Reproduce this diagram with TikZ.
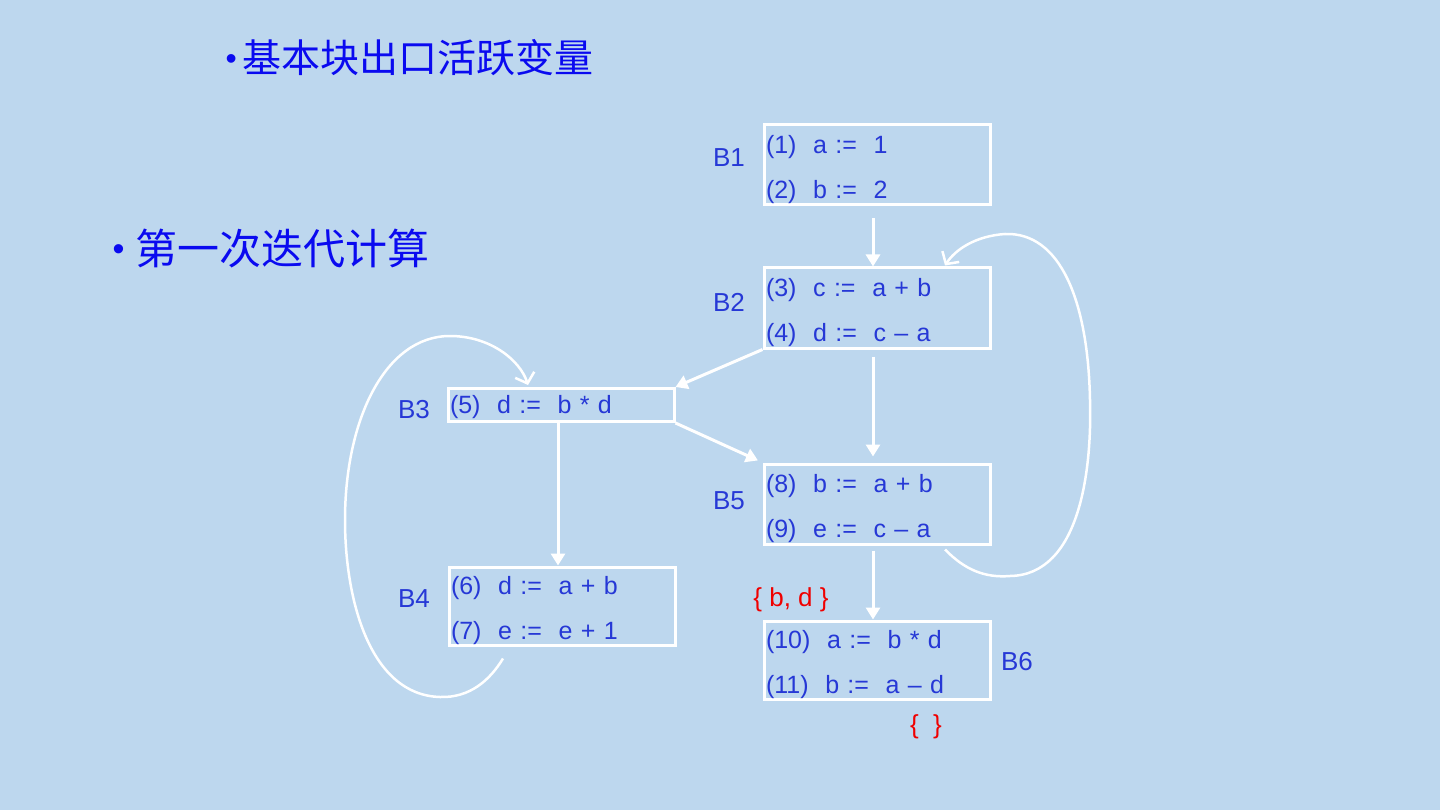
\documentclass[tikz,border=0pt]{standalone}
\usepackage{fontspec}
\setmainfont{Liberation Sans}
\newfontfamily\cjk{Noto Sans CJK SC}
\usetikzlibrary{arrows.meta}
\definecolor{slidebg}{RGB}{189,215,238}
\definecolor{codeblue}{RGB}{38,56,214}
\definecolor{titleblue}{RGB}{10,10,240}
\definecolor{setred}{RGB}{240,0,0}
\newcommand{\topgap}{\rule{0pt}{27pt}}

\begin{document}
\begin{tikzpicture}[x=1pt,y=-1pt,
  block/.style={draw=white, line width=3pt, minimum width=226pt, text width=222pt,
    inner xsep=2pt, inner ysep=0pt, align=left, text=codeblue, font=\fontsize{25}{45}\selectfont},
  blabel/.style={text=codeblue, font=\fontsize{26}{30}\selectfont},
  liveset/.style={text=setred, font=\fontsize{26}{30}\selectfont},
  flow/.style={draw=white, line width=3pt, -{Triangle[width=14pt,length=12pt]}},
  back/.style={draw=white, line width=2.5pt, -{Straight Barb[width=20pt,length=9pt]}}]
\useasboundingbox[fill=slidebg] (0,0) rectangle (1440,810);

% titles
\node[anchor=west, text=titleblue, font=\fontsize{39}{45}\selectfont] (t1) at (222,58)
  {\raisebox{3pt}{\fontsize{32}{32}\selectfont\textbullet}\hspace{6pt}{\cjk 基本块出口活跃变量}};
\node[anchor=west, text=titleblue, font=\fontsize{42}{48}\selectfont] (t2) at (109,249)
  {\raisebox{4pt}{\fontsize{34}{34}\selectfont\textbullet}\hspace{11pt}{\cjk 第一次迭代计算}};

% blocks
\node[block, minimum height=80pt] (B1) at (877,165) {\topgap(1)~~a :=~~1\\(2)~~b :=~~2};
\node[block, minimum height=80pt] (B2) at (877,308) {\topgap(3)~~c :=~~a + b\\(4)~~d :=~~c – a};
\node[block, minimum height=33pt] (B3) at (561,405) {\rule{0pt}{22pt}(5)~~d :=~~b * d};
\node[block, minimum height=80pt] (B5) at (877,504) {\topgap(8)~~b :=~~a + b\\(9)~~e :=~~c – a};
\node[block, minimum height=78pt] (B4) at (562,606) {\topgap(6)~~d :=~~a + b\\(7)~~e :=~~e + 1};
\node[block, minimum height=78pt] (B6) at (877,660) {\topgap(10)~~a :=~~b * d\\(11)~~b :=~~a – d};

\node[blabel] (l1) at (729,158) {B1};
\node[blabel] (l2) at (729,302) {B2};
\node[blabel] (l3) at (414,410) {B3};
\node[blabel] (l5) at (729,501) {B5};
\node[blabel] (l4) at (414,599) {B4};
\node[blabel] (l6) at (1017,662) {B6};

\node[liveset] (s1) at (791,600) {\{ b, d \}};
\node[liveset] (s2) at (926,727) {\{~~\}};

% edges
\draw[flow] ([xshift=-4pt,yshift=-12pt]B1.south) -- ([xshift=-4pt]B2.north);
\draw[flow] (B2.south west) -- (B3.north east);
\draw[flow, shorten >=5pt] (B3.south east) -- (B5.north west);
\draw[flow] ([xshift=-4pt,yshift=-7pt]B2.south) -- ([xshift=-4pt,yshift=6pt]B5.north);
\draw[flow] ([xshift=-3pt]B3.south) -- ([xshift=-4pt]B4.north);
\draw[flow] ([xshift=-4pt,yshift=-5pt]B5.south) -- ([xshift=-4pt]B6.north);

% back edges
\draw[back] ([xshift=68pt,yshift=-4pt]B5.south) .. controls (965,570) and (985,578) .. (1010,576)
  .. controls (1080,575) and (1092,470) .. (1090,400)
  .. controls (1088,300) and (1060,232) .. (1005,234)
  .. controls (975,236) and (955,250) .. ([xshift=68pt,yshift=1pt]B2.north);
\draw[back] ([xshift=-59pt,yshift=-12pt]B4.south) .. controls (490,680) and (470,698) .. (440,697)
  .. controls (370,695) and (345,600) .. (345,520)
  .. controls (345,420) and (385,336) .. (450,336)
  .. controls (490,336) and (520,360) .. ([xshift=-33pt,yshift=2pt]B3.north);
\end{tikzpicture}
\end{document}
